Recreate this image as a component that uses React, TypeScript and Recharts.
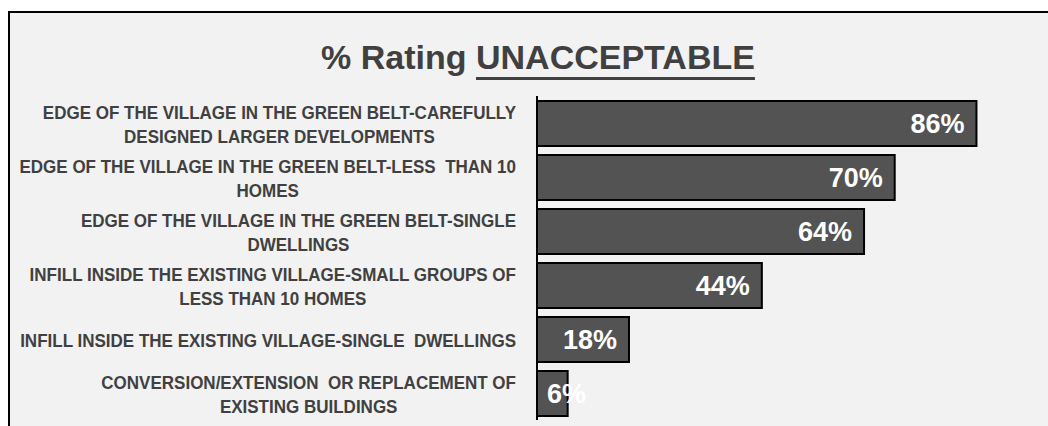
import React from 'react';
import { BarChart, Bar, XAxis, YAxis, LabelList } from 'recharts';

const CATEGORIES = [
  'EDGE OF THE VILLAGE IN THE GREEN BELT-CAREFULLY\nDESIGNED LARGER DEVELOPMENTS',
  'EDGE OF THE VILLAGE IN THE GREEN BELT-LESS  THAN 10\nHOMES',
  'EDGE OF THE VILLAGE IN THE GREEN BELT-SINGLE\nDWELLINGS',
  'INFILL INSIDE THE EXISTING VILLAGE-SMALL GROUPS OF\nLESS THAN 10 HOMES',
  'INFILL INSIDE THE EXISTING VILLAGE-SINGLE  DWELLINGS',
  'CONVERSION/EXTENSION  OR REPLACEMENT OF\nEXISTING BUILDINGS',
];
const UNACCEPTABLE = [86, 70, 64, 44, 18, 6];

const DATA = CATEGORIES.map((label, i) => ({ label, value: UNACCEPTABLE[i] }));

const FONT = '"Liberation Sans", Arial, sans-serif';
const TEXT_GREY = '#404040';

// canvas for measuring text widths (labels are centred in a right-aligned block)
let ctx: CanvasRenderingContext2D | null = null;
function measure(text: string, font: string) {
  if (!ctx) ctx = document.createElement('canvas').getContext('2d');
  if (!ctx) return text.length * 10;
  ctx.font = font;
  return ctx.measureText(text).width;
}

function CategoryTick(props: any) {
  const { x, y, payload } = props;
  const lines: string[] = String(payload.value).split('\n');
  // width of a 17px line, drawn a bit taller (narrow Calibri-like look)
  const font = `bold 17px ${FONT}`;
  const widths = lines.map((l) => measure(l.replace(/  /g, ' \u00a0'), font));
  const blockW = Math.max(...widths);
  const cx = x - blockW / 2;
  return (
    <g>
      {lines.map((line, i) => (
        <text
          key={i}
          x={cx}
          y={y + (i - (lines.length - 1) / 2) * 24 + 1 + 6.6}
          textAnchor="middle"
          fill={TEXT_GREY}
          fontFamily={FONT}
          fontWeight="bold"
          fontSize={18.5}
          textLength={widths[i]}
          lengthAdjust="spacingAndGlyphs"
        >
          {line.replace(/  /g, ' \u00a0')}
        </text>
      ))}
    </g>
  );
}

function ValueLabel(props: any) {
  const { x, y, width, height, value } = props;
  const text = `${value}%`;
  const w = measure(text, `bold 27px ${FONT}`);
  const start = Math.max(x + 10, x + width - 12 - w);
  return (
    <text
      x={start}
      y={y + height / 2 + 9.7}
      textAnchor="start"
      fill="#ffffff"
      fontFamily={FONT}
      fontWeight="bold"
      fontSize={27}
    >
      {text}
    </text>
  );
}

export default function App() {
  return (
    <div style={{ position: 'fixed', left: 0, top: 0, width: 1048, height: 426, background: '#fff', overflow: 'hidden' }}>
      <div
        style={{
          position: 'absolute', left: 8, top: 11, width: 1080, height: 460,
          border: '2.5px solid #000', background: '#f2f2f2', boxSizing: 'border-box',
        }}
      />
      <div
        style={{
          position: 'absolute', left: 8, top: 40, width: 1060, textAlign: 'center',
          fontFamily: FONT, fontWeight: 'bold', fontSize: 34, lineHeight: '34px',
          color: TEXT_GREY, whiteSpace: 'nowrap',
        }}
      >
        % Rating{' '}
        <span style={{ textDecoration: 'underline', textDecorationThickness: '2.5px', textUnderlineOffset: '8px' }}>
          UNACCEPTABLE
        </span>
      </div>
      <div style={{ position: 'absolute', left: 0, top: 0 }}>
        <BarChart
          layout="vertical"
          width={1048}
          height={426}
          data={DATA}
          margin={{ top: 96, right: 0, bottom: 6, left: 17 }}
        >
          <XAxis type="number" domain={[0, 100]} hide />
          <YAxis
            type="category"
            dataKey="label"
            width={520}
            interval={0}
            axisLine={{ stroke: '#000', strokeWidth: 2 }}
            tickLine={false}
            tickSize={0}
            tickMargin={21}
            tick={<CategoryTick />}
          />
          <Bar dataKey="value" fill="#535353" stroke="#000" strokeWidth={2} barSize={45} isAnimationActive={false}>
            <LabelList dataKey="value" content={<ValueLabel />} />
          </Bar>
        </BarChart>
      </div>
    </div>
  );
}
